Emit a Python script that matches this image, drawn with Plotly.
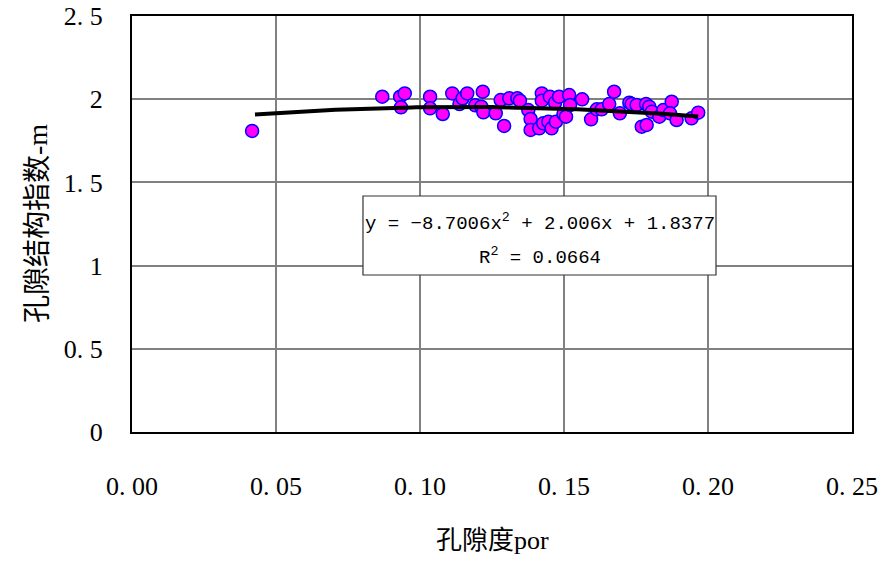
import numpy as np
import plotly.graph_objects as go

# porosity (x) and pore structure exponent m (y)
por = [0.0417, 0.0869, 0.0931, 0.0947, 0.0934, 0.1035, 0.1035, 0.1079, 0.1112, 0.1137,
       0.1148, 0.1164, 0.1192, 0.1213, 0.1218, 0.1220, 0.1263, 0.1280, 0.1292, 0.1310,
       0.1338, 0.1347, 0.1376, 0.1384, 0.1384, 0.1414, 0.1423, 0.1423, 0.1428, 0.1446,
       0.1451, 0.1457, 0.1469, 0.1472, 0.1483, 0.1498, 0.1507, 0.1518, 0.1521, 0.1563,
       0.1594, 0.1614, 0.1631, 0.1657, 0.1674, 0.1694, 0.1727, 0.1735, 0.1752, 0.1770,
       0.1787, 0.1785, 0.1796, 0.1805, 0.1831, 0.1845, 0.1874, 0.1868, 0.1891, 0.1943,
       0.1966]
m_val = [1.809, 2.015, 2.015, 2.035, 1.951, 2.015, 1.945, 1.911, 2.035, 1.971,
         2.005, 2.035, 1.963, 1.955, 2.045, 1.921, 1.915, 1.995, 1.839, 2.005,
         2.005, 1.991, 1.935, 1.881, 1.815, 1.825, 2.035, 1.991, 1.855, 1.865,
         2.015, 1.825, 1.979, 1.865, 2.015, 1.911, 1.895, 2.025, 1.965, 1.999,
         1.879, 1.939, 1.939, 1.971, 2.045, 1.915, 1.979, 1.971, 1.965, 1.835,
         1.845, 1.971, 1.955, 1.925, 1.895, 1.935, 1.985, 1.915, 1.875, 1.885,
         1.919]

# trendline coefficients (y = a x^2 + b x + c) and R^2 as shown on the chart
coef = [-8.7006, 2.006, 1.8377]
r2 = 0.0664

x_ticks = [0.0, 0.05, 0.10, 0.15, 0.20, 0.25]
x_ticktext = ["0. 00", "0. 05", "0. 10", "0. 15", "0. 20", "0. 25"]
y_ticks = [0, 0.5, 1, 1.5, 2, 2.5]
y_ticktext = ["0", "0. 5", "1", "1. 5", "2", "2. 5"]

x_title = "孔隙度por"
y_title = "孔隙结构指数-m"

tx = np.linspace(min(por) + 0.001, max(por), 100)
ty = np.polyval(coef, tx)

serif = "Liberation Serif, Noto Sans CJK SC, serif"
mono = "Liberation Mono, monospace"

fig = go.Figure()
fig.add_trace(go.Scatter(
    x=por, y=m_val, mode="markers",
    marker=dict(size=13, color="#FF00FF", line=dict(color="#0000FF", width=1.5)),
    showlegend=False, hoverinfo="skip"))
fig.add_trace(go.Scatter(
    x=tx, y=ty, mode="lines",
    line=dict(color="black", width=4),
    showlegend=False, hoverinfo="skip"))

line1 = "y = %.4fx<sup>2</sup> + %.3fx + %.4f" % (coef[0], coef[1], coef[2])
line1 = line1.replace("-", "\u2212")
line2 = "R<sup>2</sup> = %.4f" % r2

# equation box
fig.add_shape(type="rect", xref="paper", yref="paper",
              x0=0.3208, x1=0.8111, y0=0.3774, y1=0.5673,
              fillcolor="white", line=dict(color="#333333", width=1.2), layer="above")
fig.add_annotation(x=0.566, y=0.5048, xref="paper", yref="paper",
                   xanchor="center", yanchor="middle", text=line1, showarrow=False,
                   font=dict(family=mono, size=19, color="black"))
fig.add_annotation(x=0.566, y=0.4207, xref="paper", yref="paper",
                   xanchor="center", yanchor="middle", text=line2, showarrow=False,
                   font=dict(family=mono, size=19, color="black"))

fig.add_annotation(
    x=0, y=0.5, xref="paper", yref="paper", xanchor="center", yanchor="middle",
    xshift=-95, text=y_title, textangle=-90, showarrow=False,
    font=dict(family=serif, size=28, color="black"))
fig.add_annotation(
    x=0.5, y=0, xref="paper", yref="paper", xanchor="center", yanchor="middle",
    yshift=-108, text=x_title, showarrow=False,
    font=dict(family=serif, size=26, color="black"))

fig.update_xaxes(
    range=[0, 0.25], tickvals=x_ticks, ticktext=x_ticktext,
    showgrid=True, gridcolor="#808080", gridwidth=1.5,
    showline=True, linecolor="black", linewidth=2, mirror=True,
    ticks="", ticklabelstandoff=30, zeroline=False, automargin=False,
    tickfont=dict(family=serif, size=26, color="black"))
fig.update_yaxes(
    range=[0, 2.5], tickvals=y_ticks, ticktext=y_ticktext,
    showgrid=True, gridcolor="#808080", gridwidth=1.5,
    showline=True, linecolor="black", linewidth=2, mirror=True,
    ticks="", ticklabelstandoff=22, zeroline=False, automargin=False,
    tickfont=dict(family=serif, size=26, color="black"))

fig.update_layout(
    width=895, height=561,
    margin=dict(l=132, r=43, t=16, b=129),
    plot_bgcolor="white", paper_bgcolor="white")

fig.write_html("out.html")
